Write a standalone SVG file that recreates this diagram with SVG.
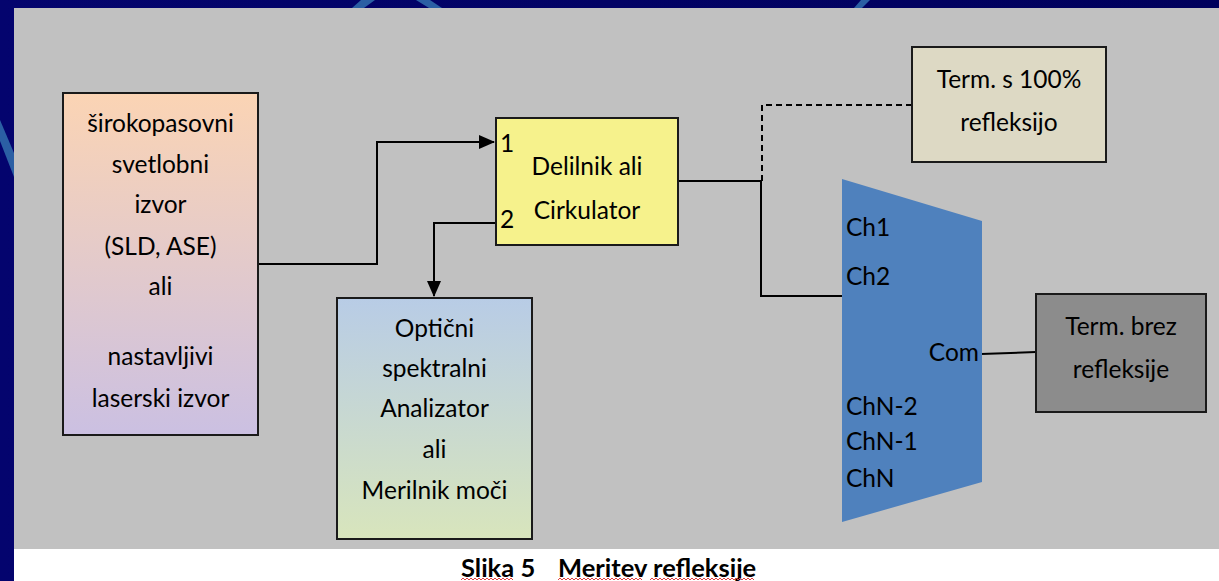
<svg xmlns="http://www.w3.org/2000/svg" width="1219" height="581" viewBox="0 0 1219 581">
<defs>
<linearGradient id="gSrc" x1="0" y1="0" x2="0" y2="1">
<stop offset="0" stop-color="#fbd4b4"/>
<stop offset="1" stop-color="#cbc0e2"/>
</linearGradient>
<linearGradient id="gOsa" x1="0" y1="0" x2="0" y2="1">
<stop offset="0" stop-color="#b8cce6"/>
<stop offset="1" stop-color="#d8e5bc"/>
</linearGradient>
<linearGradient id="gNavy" x1="0" y1="0" x2="1" y2="0">
<stop offset="0" stop-color="#04046e"/>
<stop offset="1" stop-color="#00005c"/>
</linearGradient>
<marker id="arr" markerUnits="userSpaceOnUse" markerWidth="16" markerHeight="16" viewBox="0 0 16 16" refX="15" refY="8" orient="auto">
<path d="M0,1 L16,8 L0,15 Z" fill="#000"/>
</marker>
</defs>
<style>
.box{stroke:#1a1a1a;stroke-width:2}
.t{font-family:Lato,"Open Sans","Liberation Sans",sans-serif;font-size:24.5px;fill:#000}
.c{text-anchor:middle}
.e{text-anchor:end}
.ln{fill:none;stroke:#000;stroke-width:2}
.cap{font-family:Lato,"Liberation Sans",sans-serif;font-weight:bold;font-size:25.5px;fill:#000}
.sq{fill:none;stroke:#e04040;stroke-width:1}
</style>
<!-- background -->
<rect x="0" y="0" width="1219" height="581" fill="url(#gNavy)"/>
<polygon points="352,8 361,0 375,0 364,8" fill="#2b5fa4"/>
<polygon points="416,0 430,0 442,8 429,8" fill="#2b5fa4"/>
<polygon points="854,8 861,0 870,0 862,8" fill="#2b5fa4"/>
<polygon points="0,120 14,153 14,177 0,141" fill="#2b5fa4"/>
<rect x="14" y="8" width="1205" height="541" fill="#c1c1c1"/>
<rect x="14" y="549" width="1205" height="32" fill="#ffffff"/>

<g id="connectors">
<polyline class="ln" points="258,264 377,264 377,142 494,142" marker-end="url(#arr)"/>
<polyline class="ln" points="496,223 434,223 434,296" marker-end="url(#arr)"/>
<polyline class="ln" points="678,181 762,181"/>
<polyline class="ln" points="761,181 761,296 842,296"/>
<polyline class="ln" points="762,181 762,105 912,105" stroke-dasharray="6 4"/>
<line class="ln" x1="981" y1="354" x2="1036" y2="352"/>
</g>

<g id="source">
<rect class="box" x="63" y="93" width="195" height="342" fill="url(#gSrc)"/>
<text class="t c" x="160.5" y="132">širokopasovni</text>
<text class="t c" x="160.5" y="173">svetlobni</text>
<text class="t c" x="160.5" y="213">izvor</text>
<text class="t c" x="160.5" y="255">(SLD, ASE)</text>
<text class="t c" x="160.5" y="295">ali</text>
<text class="t c" x="160.5" y="365">nastavljivi</text>
<text class="t c" x="160.5" y="407">laserski izvor</text>
</g>

<g id="splitter">
<rect class="box" x="496" y="118" width="182" height="127" fill="#f6f28c"/>
<text class="t" x="500" y="152">1</text>
<text class="t" x="500" y="228">2</text>
<text class="t c" x="587" y="175">Delilnik ali</text>
<text class="t c" x="587" y="219">Cirkulator</text>
</g>

<g id="osa">
<rect class="box" x="337" y="298" width="195" height="241" fill="url(#gOsa)"/>
<text class="t c" x="434.5" y="337">Optični</text>
<text class="t c" x="434.5" y="377">spektralni</text>
<text class="t c" x="434.5" y="417">Analizator</text>
<text class="t c" x="434.5" y="458">ali</text>
<text class="t c" x="434.5" y="499">Merilnik moči</text>
</g>

<g id="term100">
<rect class="box" x="912" y="47" width="194" height="115" fill="#ddd9c4"/>
<text class="t c" x="1009" y="88">Term. s 100%</text>
<text class="t c" x="1009" y="131">refleksijo</text>
</g>

<g id="demux">
<polygon points="842,179 982,221 982,482 842,522" fill="#4f81bd"/>
<text class="t" x="846" y="236">Ch1</text>
<text class="t" x="846" y="285">Ch2</text>
<text class="t e" x="979" y="361">Com</text>
<text class="t" x="846" y="415">ChN-2</text>
<text class="t" x="846" y="450">ChN-1</text>
<text class="t" x="846" y="487">ChN</text>
</g>

<g id="termbrez">
<rect class="box" x="1036" y="294" width="170" height="118" fill="#8c8c8c"/>
<text class="t c" x="1121" y="335">Term. brez</text>
<text class="t c" x="1121" y="378">refleksije</text>
</g>

<g id="caption">
<text class="cap" x="461" y="577">Slika 5</text>
<text class="cap" x="558" y="577">Meritev refleksije</text>
<polyline class="sq" points="461,580 463,578 465,580 467,578 469,580 471,578 473,580 475,578 477,580 479,578 481,580 483,578 485,580 487,578 489,580 491,578 493,580 495,578 497,580 499,578 501,580 503,578 505,580 507,578 509,580 511,578 513,580"/>
<polyline class="sq" points="558,580 560,578 562,580 564,578 566,580 568,578 570,580 572,578 574,580 576,578 578,580 580,578 582,580 584,578 586,580 588,578 590,580 592,578 594,580 596,578 598,580 600,578 602,580 604,578 606,580 608,578 610,580 612,578 614,580 616,578 618,580 620,578 622,580 624,578 626,580 628,578 630,580 632,578 634,580 636,578 638,580 640,578 642,580"/>
<polyline class="sq" points="650,580 652,578 654,580 656,578 658,580 660,578 662,580 664,578 666,580 668,578 670,580 672,578 674,580 676,578 678,580 680,578 682,580 684,578 686,580 688,578 690,580 692,578 694,580 696,578 698,580 700,578 702,580 704,578 706,580 708,578 710,580 712,578 714,580 716,578 718,580 720,578 722,580 724,578 726,580 728,578 730,580 732,578 734,580 736,578 738,580 740,578 742,580 744,578 746,580 748,578 750,580 752,578 754,580"/>
</g>
</svg>
